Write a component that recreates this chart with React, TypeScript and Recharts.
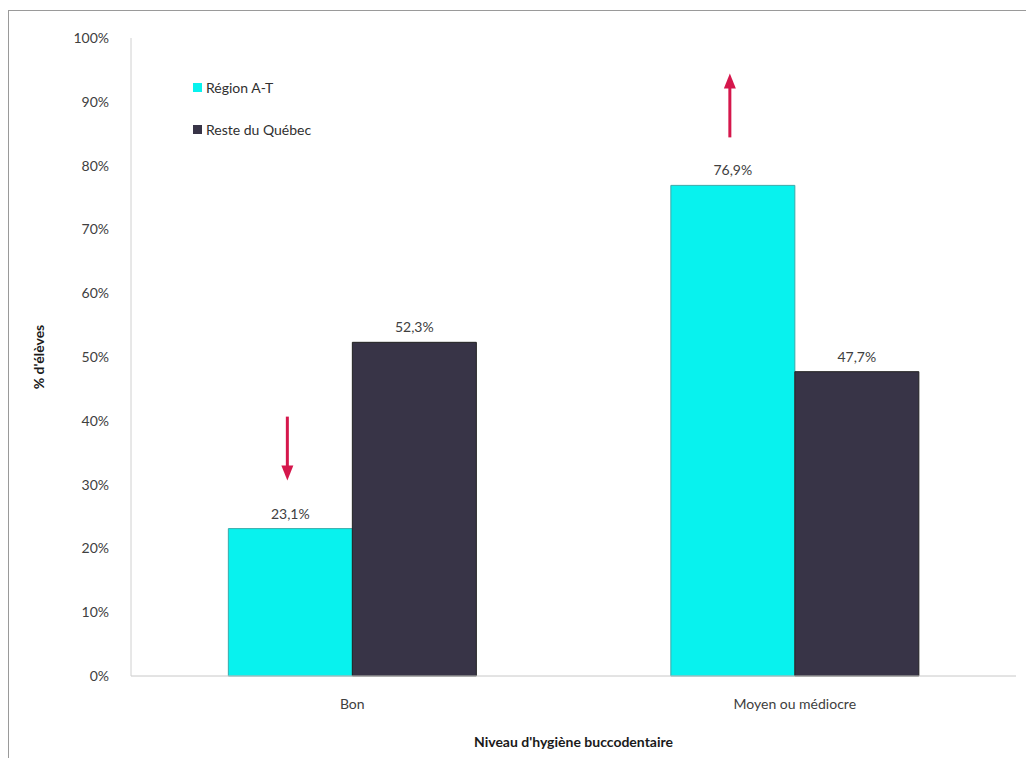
import { BarChart, Bar, XAxis, YAxis, Legend, LabelList } from "recharts";

const categories = ["Bon", "Moyen ou médiocre"];
const regionAT = [23.1, 76.9];
const resteQuebec = [52.3, 47.7];
const arrows = ["down", "up"]; // significativité vs reste du Québec
const yTicks = [0, 10, 20, 30, 40, 50, 60, 70, 80, 90, 100];

const SERIES = [
  { key: "region", name: "Région A-T", color: "#08f2ee" },
  { key: "reste", name: "Reste du Québec", color: "#383447" },
];

const data = categories.map((c, i) => ({
  cat: c,
  region: regionAT[i],
  reste: resteQuebec[i],
}));

const FONT = "Lato, 'Open Sans', sans-serif";
const fmt = (v: number) => `${v.toFixed(1).replace(".", ",")}%`;

const ValueLabel = (props: any) => {
  const { x, y, width, value } = props;
  const cx = x + width / 2;
  return (
    <text x={cx} y={y - 10} textAnchor="middle" fontSize={14} fill="#404040" fontFamily={FONT}>
      {fmt(value)}
    </text>
  );
};

const ArrowLabel = (props: any) => {
  const { x, y, width, value, index } = props;
  const cx = x + width / 2 - 3;
  const dir = arrows[index];
  const top = y - 112;
  const bot = y - 48;
  const red = "#d5174c";
  return (
    <g>
      <text x={cx + 3} y={y - 10} textAnchor="middle" fontSize={14} fill="#404040" fontFamily={FONT}>
        {fmt(value)}
      </text>
      {dir === "down" ? (
        <g>
          <line x1={cx} x2={cx} y1={top} y2={bot - 12} stroke={red} strokeWidth={3} />
          <path d={`M${cx - 6},${bot - 15} L${cx + 6},${bot - 15} L${cx},${bot} Z`} fill={red} />
        </g>
      ) : (
        <g>
          <line x1={cx} x2={cx} y1={top + 12} y2={bot} stroke={red} strokeWidth={3} />
          <path d={`M${cx - 6},${top + 15} L${cx + 6},${top + 15} L${cx},${top} Z`} fill={red} />
        </g>
      )}
    </g>
  );
};

const LegendBox = () => (
  <div style={{ fontFamily: FONT, fontSize: 14, color: "#303030" }}>
    {SERIES.map((s) => (
      <div key={s.key} style={{ display: "flex", alignItems: "center", height: 42 }}>
        <span style={{ width: 9, height: 9, background: s.color, marginRight: 4, display: "inline-block" }} />
        {s.name}
      </div>
    ))}
  </div>
);

export default function App() {
  return (
    <div
      style={{
        marginTop: 2,
        width: 1022,
        height: 752,
        border: "1px solid #9a9a9a",
        borderBottom: "none",
        background: "#fff",
        position: "relative",
      }}
    >
      <BarChart
        width={1020}
        height={752}
        data={data}
        margin={{ top: 27, right: 13, left: 50, bottom: 15 }}
        barCategoryGap="22%"
        barGap={0}
      >
        <XAxis
          dataKey="cat"
          axisLine={{ stroke: "#c8c8c8" }}
          tickLine={false}
          tick={{ fontSize: 14, fill: "#404040", fontFamily: FONT }}
          tickMargin={17}
          height={72}
          label={{
            value: "Niveau d'hygiène buccodentaire",
            position: "insideBottom",
            offset: 1,
            fontSize: 14,
            fontWeight: 700,
            fill: "#1a1a1a",
            fontFamily: FONT,
          }}
        />
        <YAxis
          domain={[0, 100]}
          ticks={yTicks}
          tickFormatter={(v: number) => `${v}%`}
          axisLine={{ stroke: "#d0d0d0" }}
          tickLine={false}
          tick={{ fontSize: 14, fill: "#404040", fontFamily: FONT }}
          tickMargin={16}
          width={72}
          label={{
            value: "% d'élèves",
            angle: -90,
            position: "insideLeft",
            offset: -20,
            fontSize: 14,
            fontWeight: 700,
            fill: "#1a1a1a",
            fontFamily: FONT,
            style: { textAnchor: "middle" },
          }}
        />
        <Legend
          content={<LegendBox />}
          layout="vertical"
          verticalAlign="middle"
          align="center"
          wrapperStyle={{ left: 184, top: 55, width: "auto" }}
        />
        <Bar dataKey="region" name="Région A-T" fill={SERIES[0].color} stroke="#3aa9a9" strokeWidth={1} isAnimationActive={false}>
          <LabelList dataKey="region" content={<ArrowLabel />} />
        </Bar>
        <Bar dataKey="reste" name="Reste du Québec" fill={SERIES[1].color} stroke="#222" strokeWidth={1} isAnimationActive={false}>
          <LabelList dataKey="reste" content={<ValueLabel />} />
        </Bar>
      </BarChart>
    </div>
  );
}
